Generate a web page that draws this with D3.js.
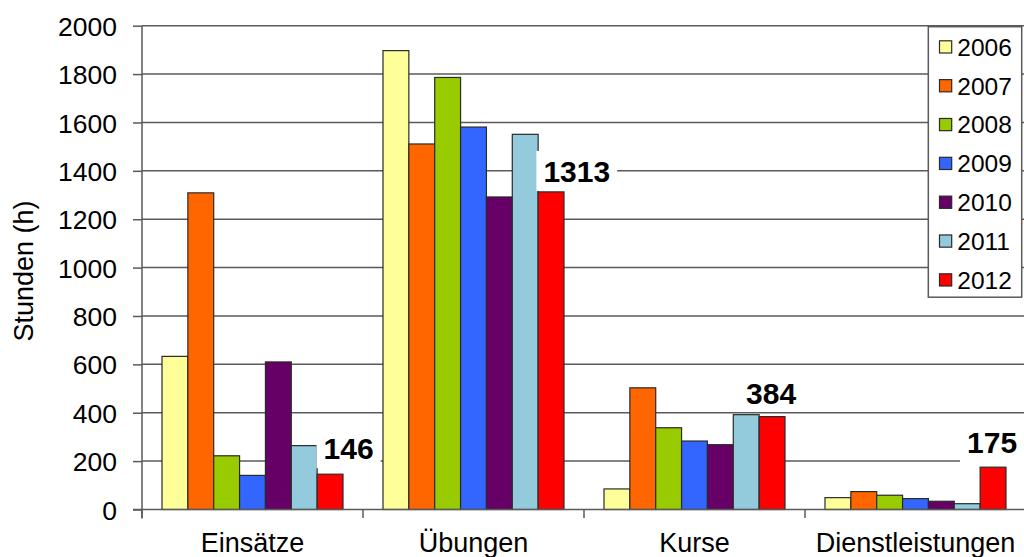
<!DOCTYPE html>
<html>
<head>
<meta charset="utf-8">
<script src="https://cdn.jsdelivr.net/npm/d3@7"></script>
<style>
  html, body { margin: 0; padding: 0; background: #fff; overflow: hidden; }
  svg { display: block; font-family: "Liberation Sans", Arial, sans-serif; }
</style>
</head>
<body>
<svg id="chart" width="1024" height="557"></svg>
<script>
// ---- data ----
const categories = ["Einsätze", "Übungen", "Kurse", "Dienstleistungen"];
const years = ["2006", "2007", "2008", "2009", "2010", "2011", "2012"];
const values2006 = [633, 1897, 85, 49];
const values2007 = [1309, 1511, 503, 74];
const values2008 = [222, 1786, 338, 59];
const values2009 = [141, 1581, 283, 45];
const values2010 = [610, 1292, 268, 34];
const values2011 = [264, 1551, 392, 24];
const values2012 = [146, 1313, 384, 175];
const yTicks = [0, 200, 400, 600, 800, 1000, 1200, 1400, 1600, 1800, 2000];
const yTitle = "Stunden (h)";
const colors = ["#FFFF99", "#FF6600", "#99CC00", "#3366FF", "#660066", "#93CBDC", "#FF0000"];

const seriesValues = [values2006, values2007, values2008, values2009, values2010, values2011, values2012];
const table = categories.map((c, ci) => ({
  category: c,
  bars: years.map((yr, yi) => ({ year: yr, value: seriesValues[yi][ci], color: colors[yi] }))
}));

// ---- layout ----
const svg = d3.select("#chart");
const plotLeft = 142, plotRight = 1026, plotTop = 25.7, plotBottom = 509.5;

const x0 = d3.scaleBand().domain(categories).range([plotLeft, plotRight]).padding(0);
const x1 = d3.scaleBand().domain(years).range([20, x0.bandwidth() - 20]).padding(0);
const y = d3.scaleLinear().domain([0, 2000]).range([plotBottom, plotTop]);

const gridColor = "#5a5a5a";

// gridlines
svg.append("g")
  .selectAll("line")
  .data(yTicks.filter(t => t > 0))
  .join("line")
  .attr("x1", plotLeft).attr("x2", 1024)
  .attr("y1", d => y(d)).attr("y2", d => y(d))
  .attr("stroke", gridColor).attr("stroke-width", 1.5);

// y axis
const yAxis = svg.append("g")
  .attr("transform", `translate(${plotLeft},0)`)
  .call(d3.axisLeft(y).tickValues(yTicks).tickSize(9).tickPadding(16).tickFormat(d3.format("d")));
yAxis.select(".domain").attr("stroke", gridColor).attr("stroke-width", 1.5)
  .attr("d", `M0,${plotTop}V${plotBottom + 9}`);
yAxis.selectAll(".tick line").attr("stroke", gridColor).attr("stroke-width", 1.5);
yAxis.selectAll(".tick text")
  .attr("fill", "#000")
  .attr("font-size", 26.5)
  .attr("font-family", "'Liberation Sans', Arial, sans-serif")
  .attr("dy", "0.36em");

// y title
svg.append("text")
  .attr("transform", `translate(33,271) rotate(-90)`)
  .attr("text-anchor", "middle")
  .attr("font-size", 27)
  .attr("fill", "#000")
  .text(yTitle);

// bars
const groups = svg.append("g").selectAll("g")
  .data(table)
  .join("g")
  .attr("transform", d => `translate(${x0(d.category)},0)`);

groups.selectAll("rect")
  .data(d => d.bars)
  .join("rect")
  .attr("x", d => x1(d.year))
  .attr("y", d => y(d.value))
  .attr("width", x1.bandwidth())
  .attr("height", d => plotBottom - y(d.value))
  .attr("fill", d => d.color)
  .attr("stroke", "#2a2a2a")
  .attr("stroke-width", 1.2);

// x axis
const xAxisG = svg.append("g");
xAxisG.append("line")
  .attr("x1", plotLeft - 9).attr("x2", 1024)
  .attr("y1", plotBottom).attr("y2", plotBottom)
  .attr("stroke", gridColor).attr("stroke-width", 1.5);
xAxisG.selectAll("line.tick")
  .data(categories)
  .join("line")
  .attr("class", "tick")
  .attr("x1", d => x0(d)).attr("x2", d => x0(d))
  .attr("y1", plotBottom).attr("y2", plotBottom + 8.5)
  .attr("stroke", gridColor).attr("stroke-width", 1.5);
xAxisG.selectAll("text")
  .data(categories)
  .join("text")
  .attr("x", d => x0(d) + x0.bandwidth() / 2)
  .attr("y", 551.7)
  .attr("text-anchor", "middle")
  .attr("font-size", 27)
  .attr("fill", "#000")
  .text(d => d);

// data labels for 2012
const labelDx = [18.5, 25.7, -1, -1];
const labelDy = [-15, -10, -13, -14];
const boxBottomPad = [9, 9, 6, 10];
const labels = svg.append("g");
categories.forEach((c, i) => {
  const v = values2012[i];
  const cx = x0(c) + x1("2012") + x1.bandwidth() / 2 + labelDx[i];
  const by = y(v) + labelDy[i];
  const g = labels.append("g");
  const bg = g.append("rect").attr("fill", "#fff");
  const t = g.append("text")
    .attr("x", cx).attr("y", by)
    .attr("text-anchor", "middle")
    .attr("font-size", 30)
    .attr("font-weight", "bold")
    .attr("fill", "#000")
    .text(v);
  const bb = t.node().getBBox();
  bg.attr("x", bb.x - 7).attr("width", bb.width + 14)
    .attr("y", by - 31).attr("height", 31 + boxBottomPad[i]);
});

// legend
const legend = svg.append("g");
legend.append("rect")
  .attr("x", 928.3).attr("y", 26.7)
  .attr("width", 93.4).attr("height", 270.5)
  .attr("fill", "#fff")
  .attr("stroke", gridColor).attr("stroke-width", 1.5);
const rowY = d3.scalePoint().domain(years).range([47, 280]);
const items = legend.selectAll("g.item")
  .data(years.map((yr, i) => ({ year: yr, color: colors[i] })))
  .join("g").attr("class", "item");
items.append("rect")
  .attr("x", 939.5).attr("y", d => rowY(d.year) - 6.2)
  .attr("width", 12.2).attr("height", 12.2)
  .attr("fill", d => d.color)
  .attr("stroke", "#2a2a2a").attr("stroke-width", 1.2);
items.append("text")
  .attr("x", 957.3).attr("y", d => rowY(d.year) + 8.7)
  .attr("font-size", 24.5)
  .attr("fill", "#000")
  .text(d => d.year);
</script>
</body>
</html>
